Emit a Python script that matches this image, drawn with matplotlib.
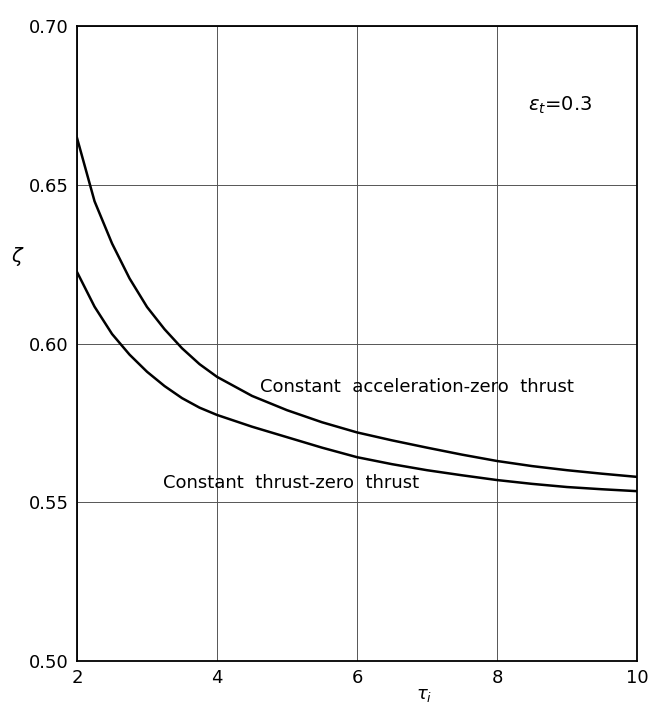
import matplotlib
matplotlib.use("Agg")
import matplotlib.pyplot as plt

# tau_i values
tau = [2, 2.25, 2.5, 2.75, 3, 3.25, 3.5, 3.75, 4, 4.5, 5, 5.5, 6, 6.5, 7, 7.5, 8, 8.5, 9, 9.5, 10]
# Constant acceleration - zero thrust
zeta_acc = [0.6647, 0.6448, 0.6315, 0.6205, 0.6115, 0.6045, 0.5985, 0.5935, 0.5895, 0.5835, 0.5790,
            0.5752, 0.5720, 0.5695, 0.5672, 0.5650, 0.5630, 0.5614, 0.5601, 0.5590, 0.5580]
# Constant thrust - zero thrust
zeta_thr = [0.6225, 0.6116, 0.6030, 0.5965, 0.5911, 0.5866, 0.5828, 0.5798, 0.5775, 0.5738, 0.5705,
            0.5672, 0.5642, 0.5620, 0.5601, 0.5585, 0.5570, 0.5558, 0.5548, 0.5541, 0.5535]

xticks = [2, 4, 6, 8, 10]
yticks = [0.50, 0.55, 0.60, 0.65, 0.70]
ytick_labels = ["0.50", "0.55", "0.60", "0.65", "0.70"]

plt.rcParams['font.family'] = ['DejaVu Sans']

fig = plt.figure(figsize=(6.53, 7.13), dpi=100)
ax = fig.add_axes([0.118, 0.0729, 0.8575, 0.8906])

ax.plot(tau, zeta_acc, color='black', lw=1.8)
ax.plot(tau, zeta_thr, color='black', lw=1.8)

ax.set_xlim(2, 10)
ax.set_ylim(0.50, 0.70)
ax.set_xticks(xticks)
ax.set_yticks(yticks)
ax.set_yticklabels(ytick_labels)
ax.tick_params(length=0, labelsize=13, pad=6)
ax.grid(True, color='#555555', lw=0.7)
for s in ax.spines.values():
    s.set_linewidth(1.3)

ax.text(3.23, 0.5561, "Constant  thrust-zero  thrust", fontsize=13, va='center', ha='left')
ax.text(4.61, 0.5863, "Constant  acceleration-zero  thrust", fontsize=13, va='center', ha='left')
ax.text(8.44, 0.675, r"$\varepsilon_t$=0.3", fontsize=14, va='center', ha='left')

ax.set_xlabel(r"$\tau_i$", fontsize=13)
ax.xaxis.set_label_coords(0.62, -0.04)
ax.set_ylabel(r"$\zeta$", fontsize=14, rotation=0)
ax.yaxis.set_label_coords(-0.105, 0.619)

fig.savefig("out.png", dpi=100)
